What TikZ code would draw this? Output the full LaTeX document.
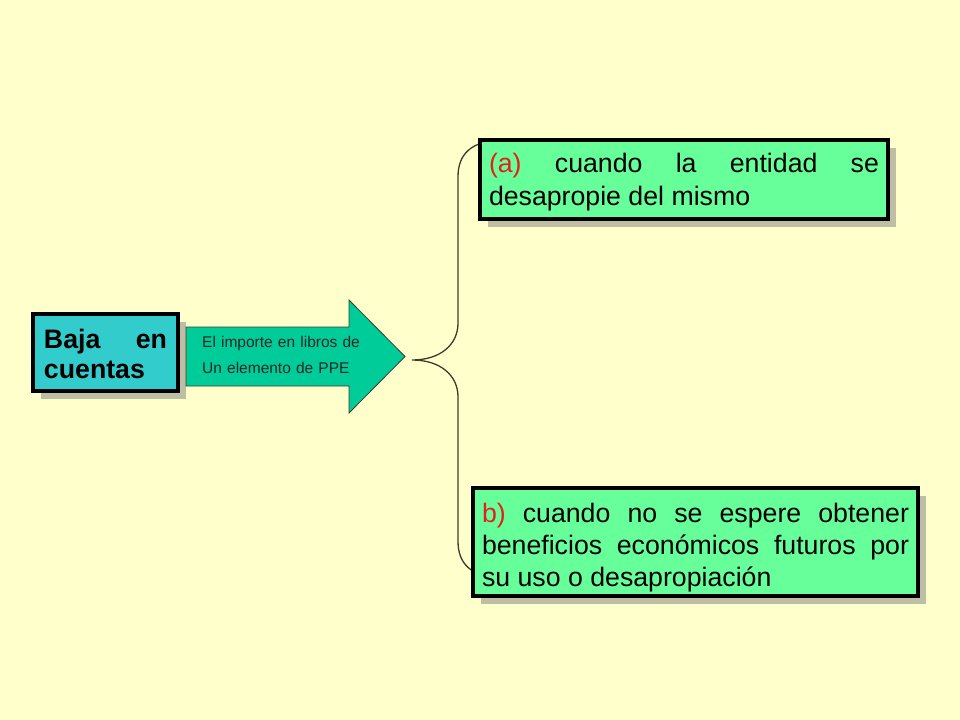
\documentclass[tikz,border=0pt]{standalone}
\usepackage{fontspec}
\setmainfont{Liberation Sans}
\usetikzlibrary{shadows}

\definecolor{fondo}{RGB}{255,255,204}
\definecolor{cian}{RGB}{51,204,204}
\definecolor{verdecaja}{RGB}{102,255,153}
\definecolor{verdeflecha}{RGB}{0,204,153}
\definecolor{sombra}{RGB}{190,190,165}
\definecolor{rojo}{RGB}{230,30,30}
\definecolor{trazo}{RGB}{60,60,45}

\tikzset{
  caja/.style={draw=black, line width=4bp, inner ysep=0pt, align=justify,
    font=\fontsize{26.7bp}{32bp}\selectfont,
    drop shadow={shadow xshift=8bp, shadow yshift=-8bp, fill=sombra, opacity=1}},
  flecha/.style={fill=verdeflecha, draw=trazo, line width=0.8bp},
  textoflecha/.style={inner sep=0pt, text width=160bp, align=left,
    font=\fontsize{15.5bp}{26bp}\selectfont, text=black!85},
  llave/.style={draw=trazo, line width=1.3bp}
}

\begin{document}
\begin{tikzpicture}[x=1bp, y=-1bp]

\fill[fondo] (0,0) rectangle (960,720);
\useasboundingbox (0,0) rectangle (960,720);

% llave
\coordinate (punta) at (412,360);
\draw[llave] (505,140) .. controls (470,140) and (458,155) .. (458,177) -- (458,323)
  .. controls (458,345) and (440,360) .. (punta)
  .. controls (440,360) and (458,375) .. (458,397) -- (458,541)
  .. controls (458,563) and (470,578) .. (505,578);

% caja izquierda
\node[caja, fill=cian, minimum width=145bp, minimum height=77bp, inner xsep=11bp,
  text width=123bp, text height=21bp, text depth=30bp,
  font=\fontsize{26.7bp}{30bp}\selectfont\bfseries] (baja) at (105.5,352.5)
  {\makebox[\linewidth][s]{Baja en}\\cuentas};

% flecha
\draw[flecha] (186,327) -- (349,327) -- (349,300) -- (405,356.5) -- (349,413)
  -- (349,386) -- (186,386) -- cycle;
\node[textoflecha, anchor=base west] (importe) at (202,347)
  {El importe en libros de\\Un elemento de PPE};

% cajas derecha
\node[caja, fill=verdecaja, minimum width=408bp, minimum height=79bp, inner xsep=9bp,
  text width=390bp, text height=24.6bp, text depth=37.6bp] (casoa) at (684,179.5)
  {\makebox[\linewidth][s]{\textcolor{rojo}{(a)} cuando la entidad se}\\desapropie del mismo};

\node[caja, fill=verdecaja, minimum width=445bp, minimum height=108bp, inner xsep=9bp,
  text width=427bp, text height=29.6bp, text depth=69.6bp] (casob) at (695.5,542)
  {\makebox[\linewidth][s]{\textcolor{rojo}{b)} cuando no se espere obtener}\\
   \makebox[\linewidth][s]{beneficios económicos futuros por}\\
   su uso o desapropiación};

\end{tikzpicture}
\end{document}
